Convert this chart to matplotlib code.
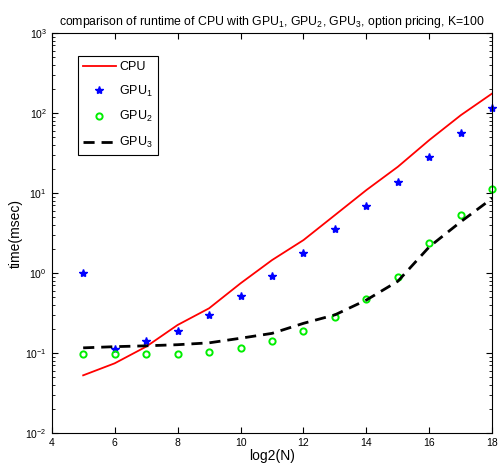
import numpy as np
import matplotlib
matplotlib.use("Agg")
import matplotlib.pyplot as plt
from matplotlib.ticker import LogLocator, NullFormatter

plt.rcParams['font.family'] = ['Liberation Sans', 'DejaVu Sans']
plt.rcParams['mathtext.fontset'] = 'custom'
plt.rcParams['mathtext.rm'] = 'Liberation Sans'
plt.rcParams['mathtext.it'] = 'Liberation Sans'

# log2(N)
n = [5, 6, 7, 8, 9, 10, 11, 12, 13, 14, 15, 16, 17, 18]

# runtimes in msec
cpu = [0.0526, 0.0743, 0.12, 0.224, 0.362, 0.743, 1.45, 2.58, 5.3, 10.9,
       21.3, 46, 94, 176]
gpu1 = [1.0, 0.112, 0.141, 0.19, 0.296, 0.51, 0.93, 1.79, 3.52, 6.9,
        13.7, 27.9, 56.7, 114]
gpu2 = [0.096, 0.096, 0.096, 0.096, 0.102, 0.116, 0.141, 0.19, 0.28, 0.47,
        0.89, 2.35, 5.35, 11.2]
gpu3 = [0.116, 0.12, 0.123, 0.127, 0.134, 0.153, 0.176, 0.235, 0.3, 0.46,
        0.79, 2.13, 4.38, 8.6]

fig = plt.figure(figsize=(4.99, 4.65), dpi=100)
ax = fig.add_axes([0.1036, 0.0688, 0.883, 0.8602])

ax.semilogy(n, cpu, color='red', lw=1.3, label='CPU')
ax.semilogy(n, gpu1, ls='none', marker='*', ms=6, color='blue',
            mec='blue', label='GPU$_1$', clip_on=False)
ax.semilogy(n, gpu2, ls='none', marker='o', ms=4.5, mfc='none',
            mec='#00ee00', mew=1.4, label='GPU$_2$', clip_on=False)
ax.semilogy(n, gpu3, color='black', lw=2, ls=(0, (4, 2.5)), label='GPU$_3$')

ax.set_xlim(4, 18)
ax.set_ylim(1e-2, 1e3)
ax.set_xticks(range(4, 19, 2))
ax.yaxis.set_major_locator(LogLocator(base=10, numticks=10))
ax.yaxis.set_minor_locator(LogLocator(base=10, subs=np.arange(2, 10), numticks=10))
ax.yaxis.set_minor_formatter(NullFormatter())
ax.tick_params(which='both', direction='in', top=True, right=True, labelsize=7.5)
ax.tick_params(which='major', length=4)
ax.tick_params(which='minor', length=2)

ax.set_xlabel('log2(N)', fontsize=10, labelpad=1)
ax.set_ylabel('time(msec)', fontsize=10, labelpad=2)
ax.set_title('comparison of runtime of CPU with GPU$_1$, GPU$_2$, GPU$_3$, '
             'option pricing, K=100', fontsize=8.8, pad=6)

leg = ax.legend(loc='upper left', bbox_to_anchor=(0.06, 0.9425), borderaxespad=0,
                fontsize=9, fancybox=False, framealpha=1, edgecolor='black',
                handlelength=2.6, handletextpad=0.3, labelspacing=0.85,
                borderpad=0.4)
leg.get_frame().set_linewidth(0.8)

fig.savefig('out.png', dpi=100)
